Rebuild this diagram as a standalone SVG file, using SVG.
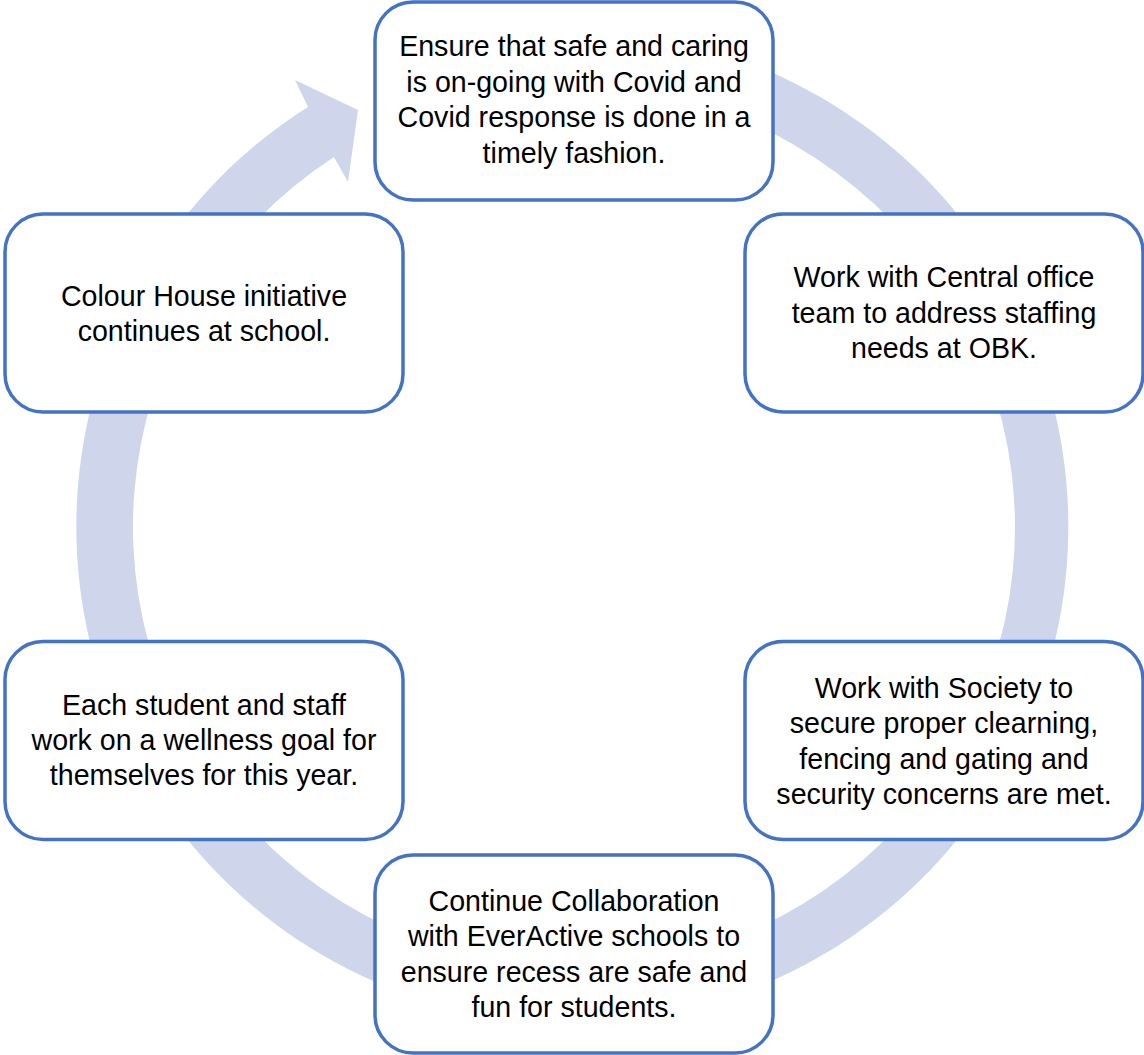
<svg xmlns="http://www.w3.org/2000/svg" width="1144" height="1055" viewBox="0 0 1144 1055">
<style>
.box{fill:#FFFFFF;stroke:#4472C4;stroke-width:3.5}
.t{font-family:"Liberation Sans",Arial,sans-serif;font-size:28.6px;fill:#000000;text-anchor:middle}
.ring{fill:#CFD5EA;stroke:none}
</style>
<rect width="1144" height="1055" fill="#FFFFFF"/>
<g id="connectors">
<path class="ring" d="M 660.13 38.54 A 496 496 0 1 1 308 107 L 295 80 L 358 110 L 348 182 L 334 157 A 441 441 0 1 0 650.58 92.70 Z"/>
</g>
<g id="node-top">
<rect class="box" x="375" y="2" width="398" height="198" rx="38"/>
<text class="t" x="574" y="56">Ensure that safe and caring</text>
<text class="t" x="574" y="91.5">is on-going with Covid and</text>
<text class="t" x="574" y="127">Covid response is done in a</text>
<text class="t" x="574" y="162.5">timely fashion.</text>
</g>
<g id="node-right-top">
<rect class="box" x="745" y="214" width="398" height="198" rx="38"/>
<text class="t" x="944" y="287">Work with Central office</text>
<text class="t" x="944" y="322.5">team to address staffing</text>
<text class="t" x="944" y="358">needs at OBK.</text>
</g>
<g id="node-right-bottom">
<rect class="box" x="745" y="641.5" width="398" height="198" rx="38"/>
<text class="t" x="944" y="697.5">Work with Society to</text>
<text class="t" x="944" y="733">secure proper clearning,</text>
<text class="t" x="944" y="768.5">fencing and gating and</text>
<text class="t" x="944" y="803.5">security concerns are met.</text>
</g>
<g id="node-bottom">
<rect class="box" x="375" y="855" width="398" height="198" rx="38"/>
<text class="t" x="574" y="910.5">Continue Collaboration</text>
<text class="t" x="574" y="946">with EverActive schools to</text>
<text class="t" x="574" y="981.7">ensure recess are safe and</text>
<text class="t" x="574" y="1017">fun for students.</text>
</g>
<g id="node-left-bottom">
<rect class="box" x="5" y="641.5" width="398" height="198" rx="38"/>
<text class="t" x="204" y="715">Each student and staff</text>
<text class="t" x="204" y="750">work on a wellness goal for</text>
<text class="t" x="204" y="785">themselves for this year.</text>
</g>
<g id="node-left-top">
<rect class="box" x="5" y="214" width="398" height="198" rx="38"/>
<text class="t" x="204" y="305.5">Colour House initiative</text>
<text class="t" x="204" y="341">continues at school.</text>
</g>
</svg>
